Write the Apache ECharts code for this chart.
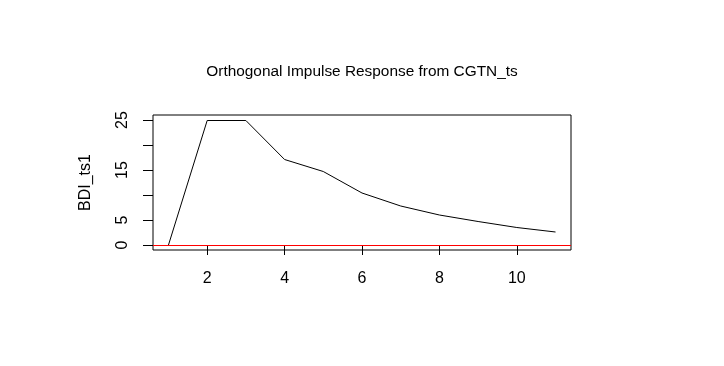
<!DOCTYPE html>
<html>
<head>
<meta charset="utf-8">
<script src="https://cdn.jsdelivr.net/npm/echarts@6/dist/echarts.min.js"></script>
<style>
  html, body { margin: 0; padding: 0; background: #fff; }
  #box1 { width: 724px; height: 366px; }
</style>
</head>
<body>
<div id="box1"></div>
<script>
// impulse response of BDI_ts1 to a shock in CGTN_ts
var steps = [1, 2, 3, 4, 5, 6, 7, 8, 9, 10, 11];
var response = [0, 24.9, 24.9, 17.1, 14.7, 10.4, 7.8, 6.0, 4.7, 3.5, 2.6];
var xTicks = [2, 4, 6, 8, 10];
var yTicks = [0, 5, 10, 15, 20, 25];
var yLabels = [0, 5, 15, 25]; // R drops the 10 and 20 labels (overlap)

var dom = document.getElementById("box1");
var myChart = echarts.init(dom);

var points = steps.map(function (s, i) { return [s, response[i]]; });
var font = 'Liberation Sans, Arial, sans-serif';

option = {
    animation: false,
    backgroundColor: '#fff',
    title: {
        text: 'Orthogonal Impulse Response from CGTN_ts',
        left: 'center',
        top: 59,
        textStyle: { fontFamily: font, fontWeight: 'normal', fontSize: 15.4, color: '#000' }
    },
    grid: {
        left: 153, right: 153, top: 115, bottom: 116,
        show: true, borderColor: '#000', borderWidth: 1, backgroundColor: 'transparent'
    },
    xAxis: {
        type: 'value',
        min: 0.6, max: 11.4,
        splitLine: { show: false },
        axisLine: { show: false },
        axisTick: { show: true, length: 10, inside: false, customValues: xTicks, lineStyle: { color: '#000' } },
        axisLabel: { customValues: xTicks, margin: 21, fontFamily: font, fontSize: 16, color: '#000' }
    },
    yAxis: {
        type: 'value',
        min: -1, max: 26,
        name: 'BDI_ts1',
        nameLocation: 'middle',
        nameGap: 59,
        nameRotate: 90,
        nameTextStyle: { fontFamily: font, fontSize: 16, color: '#000' },
        splitLine: { show: false },
        axisLine: { show: false },
        axisTick: { show: true, length: 10, customValues: yTicks, lineStyle: { color: '#000' } },
        axisLabel: {
            customValues: yTicks,
            rotate: 90,
            margin: 22,
            fontFamily: font, fontSize: 16, color: '#000',
            formatter: function (v) { return yLabels.indexOf(v) >= 0 ? String(v) : ''; }
        }
    },
    series: [
        {
            name: 'BDI_ts1',
            type: 'line',
            data: points,
            showSymbol: false,
            z: 3,
            lineStyle: { color: '#000', width: 1 },
            markLine: {
                silent: true,
                symbol: ['none', 'none'],
                z: 2,
                label: { show: false },
                lineStyle: { color: '#ff0000', type: 'solid', width: 1 },
                data: [{ yAxis: 0 }]
            }
        }
    ]
};

if (option && typeof option === "object") {
    myChart.setOption(option, true);
}
</script>
</body>
</html>
